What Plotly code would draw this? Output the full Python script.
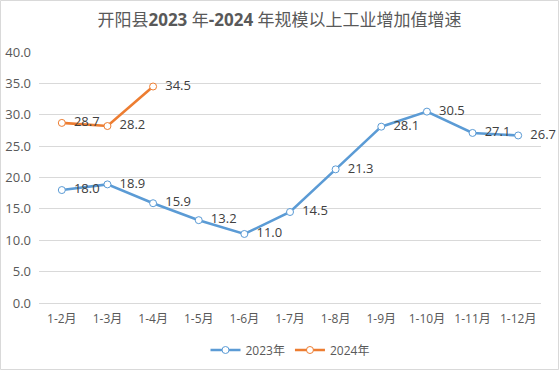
import plotly.graph_objects as go

categories = ["1-2月", "1-3月", "1-4月", "1-5月", "1-6月", "1-7月", "1-8月", "1-9月", "1-10月", "1-11月", "1-12月"]
values_2023 = [18.0, 18.9, 15.9, 13.2, 11.0, 14.5, 21.3, 28.1, 30.5, 27.1, 26.7]
values_2024 = [28.7, 28.2, 34.5]
y_ticks = [0, 5, 10, 15, 20, 25, 30, 35, 40]

FONT = "Open Sans, Noto Sans CJK SC, sans-serif"
W, H = 559, 370
ML, MR, MT, MB = 39, 18, 52, 67
PW, PH = W - ML - MR, H - MT - MB

fig = go.Figure()
for name, vals, color in [("2023年", values_2023, "#5b9bd5"), ("2024年", values_2024, "#ed7d31")]:
    fig.add_trace(go.Scatter(
        x=categories[:len(vals)], y=vals, name=name,
        mode="lines+markers+text",
        line=dict(color=color, width=2.6),
        marker=dict(symbol="circle", size=7, color="white", line=dict(color=color, width=1)),
        text=["\u00a0\u00a0" + f"{v:.1f}" for v in vals], textposition="middle right",
        textfont=dict(family=FONT, size=13, color="#404040"),
        cliponaxis=False,
    ))

fig.update_layout(
    width=W, height=H,
    margin=dict(l=ML, r=MR, t=MT, b=MB, autoexpand=False),
    paper_bgcolor="white", plot_bgcolor="white",
    title=dict(text="开阳县<b>2023</b> 年<b>-2024</b> 年规模以上工业增加值增速", x=0.5, xanchor="center",
               y=1 - 20/H, yanchor="middle",
               font=dict(family=FONT, size=17, color="#595959")),
    xaxis=dict(type="category", categoryorder="array", categoryarray=categories,
               range=[-0.5, 10.5], showgrid=False, showline=True, linecolor="#d9d9d9",
               ticks="", automargin=False, ticklabelstandoff=5,
               tickfont=dict(family=FONT, size=12, color="#595959")),
    yaxis=dict(range=[0, 40], tickvals=y_ticks, ticktext=[f"{t:.1f}" for t in y_ticks],
               showgrid=True, gridcolor="#d9d9d9", zeroline=False, ticks="", automargin=False,
               ticklabelstandoff=7,
               tickfont=dict(family=FONT, size=13, color="#595959")),
    legend=dict(orientation="h", x=0.5, xanchor="center", yref="container", y=1 - 350/H, yanchor="middle",
                font=dict(family=FONT, size=12, color="#595959")),
    showlegend=True,
    shapes=[dict(type="rect", xref="paper", yref="paper",
                 x0=(0.5-ML)/PW, x1=(W-0.5-ML)/PW,
                 y0=-(MB-0.5)/PH, y1=(H-0.5-MB)/PH,
                 line=dict(color="#d9d9d9", width=1), layer="below")],
)
fig.write_html("out.html", config={"displayModeBar": False},
               post_script="document.body.style.margin='0';document.body.style.overflow='hidden';")
